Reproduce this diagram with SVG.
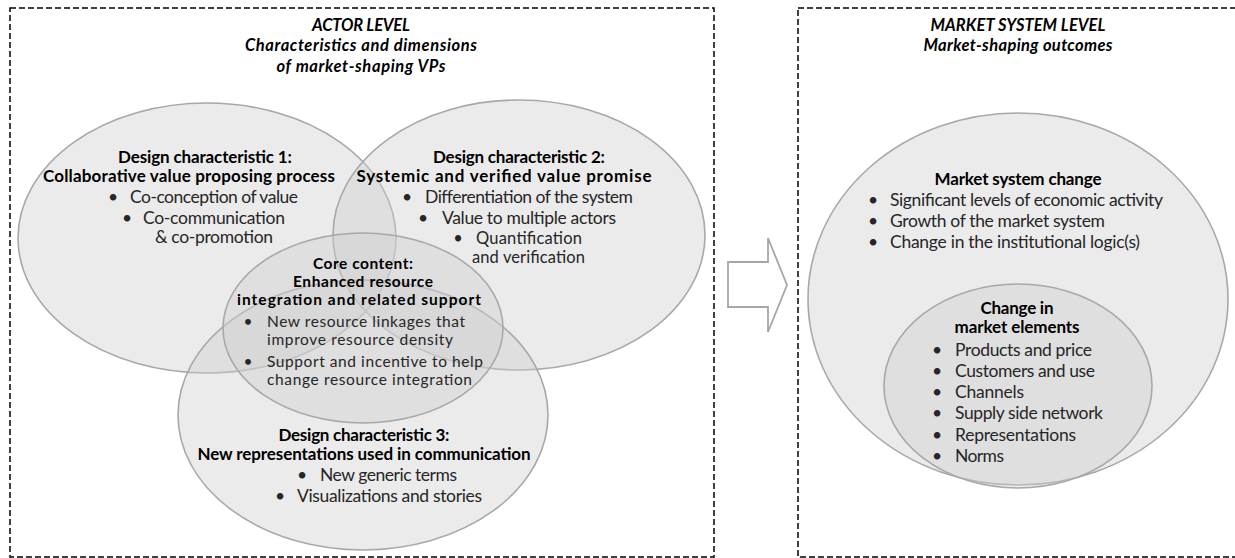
<svg xmlns="http://www.w3.org/2000/svg" width="1235" height="558" viewBox="0 0 1235 558">
<style>
.frame{fill:none;stroke:#000;stroke-width:1.5;stroke-dasharray:6 3}
.ell{fill:#cfcfcf;fill-opacity:0.42;stroke:#a8a8a8;stroke-width:1.6}
.t{font-family:Lato,"Liberation Sans",sans-serif;font-size:17.5px;fill:#262626}
.b{font-weight:bold;fill:#000;font-size:17px}
.s{font-size:15.5px}
.m{font-size:16.5px}
.h{font-family:Lato,"Liberation Sans",sans-serif;font-size:16.5px;font-weight:bold;font-style:italic;fill:#000;text-anchor:middle}
.c{text-anchor:middle}
.arrow{fill:#fff;stroke:#a6a6a6;stroke-width:1.8}
</style>
<rect x="0" y="0" width="1235" height="558" fill="#fff"/>
<g id="actor-level">
<rect class="frame" x="10" y="8" width="704" height="549"/>
<text class="h" x="361" y="31" textLength="98">ACTOR LEVEL</text>
<text class="h" x="361" y="51" textLength="232">Characteristics and dimensions</text>
<text class="h" x="361" y="72" textLength="169">of market-shaping VPs</text>
</g>
<g id="market-system-level">
<rect class="frame" x="798" y="8" width="445" height="549"/>
<text class="h" x="1018" y="31" textLength="175">MARKET SYSTEM LEVEL</text>
<text class="h" x="1018" y="51" textLength="189">Market-shaping outcomes</text>
</g>
<g id="design1">
<ellipse class="ell" cx="207" cy="238" rx="189" ry="135"/>
</g>
<g id="design2">
<ellipse class="ell" cx="519" cy="235" rx="186" ry="135"/>
</g>
<g id="design3">
<ellipse class="ell" cx="363" cy="415" rx="185" ry="135"/>
</g>
<g id="core">
<ellipse class="ell" cx="363" cy="328" rx="140" ry="95"/>
</g>
<g id="design1-text">
<text class="t b c" x="205" y="163" textLength="174">Design characteristic 1:</text>
<text class="t b c" x="189" y="182" textLength="292">Collaborative value proposing process</text>
<text class="t c" x="113" y="203">•</text>
<text class="t" x="130" y="203" textLength="168">Co-conception of value</text>
<text class="t c" x="127" y="224">•</text>
<text class="t" x="143" y="224" textLength="142">Co-communication</text>
<text class="t" x="155" y="243" textLength="118">&amp; co-promotion</text>
</g>
<g id="design2-text">
<text class="t b c" x="519" y="163" textLength="172">Design characteristic 2:</text>
<text class="t b c" x="504" y="182" textLength="295">Systemic and verified value promise</text>
<text class="t c" x="407" y="203">•</text>
<text class="t" x="425" y="203" textLength="208">Differentiation of the system</text>
<text class="t c" x="423" y="224">•</text>
<text class="t" x="442" y="224" textLength="174">Value to multiple actors</text>
<text class="t c m" x="458" y="244">•</text>
<text class="t m" x="476" y="244" textLength="106">Quantification</text>
<text class="t m" x="472" y="263" textLength="113">and verification</text>
</g>
<g id="core-text">
<text class="t b c s" x="363" y="269" textLength="100">Core content:</text>
<text class="t b c s" x="363" y="287" textLength="140">Enhanced resource</text>
<text class="t b c s" x="359" y="305" textLength="244">integration and related support</text>
<text class="t c s" x="248" y="327">•</text>
<text class="t s" x="267" y="327" textLength="198">New resource linkages that</text>
<text class="t s" x="267" y="345" textLength="186">improve resource density</text>
<text class="t c s" x="248" y="367">•</text>
<text class="t s" x="267" y="367" textLength="216">Support and incentive to help</text>
<text class="t s" x="267" y="385" textLength="205">change resource integration</text>
</g>
<g id="design3-text">
<text class="t b c" x="364" y="441" textLength="171">Design characteristic 3:</text>
<text class="t b c" x="364" y="460" textLength="333">New representations used in communication</text>
<text class="t c" x="302" y="481">•</text>
<text class="t" x="320" y="481" textLength="137">New generic terms</text>
<text class="t c" x="280" y="502">•</text>
<text class="t" x="297" y="502" textLength="185">Visualizations and stories</text>
</g>
<g id="market-system-change">
<ellipse class="ell" cx="1018" cy="299" rx="210" ry="186"/>
<text class="t b c" x="1018" y="185" textLength="167">Market system change</text>
<text class="t c" x="873" y="206">•</text>
<text class="t" x="890" y="206" textLength="273">Significant levels of economic activity</text>
<text class="t c" x="873" y="227">•</text>
<text class="t" x="890" y="227" textLength="215">Growth of the market system</text>
<text class="t c" x="873" y="248">•</text>
<text class="t" x="890" y="248" textLength="250">Change in the institutional logic(s)</text>
</g>
<g id="market-elements">
<ellipse class="ell" cx="1018" cy="386" rx="134" ry="102"/>
<text class="t b c" x="1017" y="314" textLength="73">Change in</text>
<text class="t b c" x="1017" y="333" textLength="125">market elements</text>
<text class="t c" x="937" y="356">•</text>
<text class="t" x="955" y="356" textLength="137">Products and price</text>
<text class="t c" x="937" y="377">•</text>
<text class="t" x="955" y="377" textLength="140">Customers and use</text>
<text class="t c" x="937" y="398">•</text>
<text class="t" x="955" y="398" textLength="69">Channels</text>
<text class="t c" x="937" y="419">•</text>
<text class="t" x="955" y="419" textLength="148">Supply side network</text>
<text class="t c" x="937" y="441">•</text>
<text class="t" x="955" y="441" textLength="121">Representations</text>
<text class="t c" x="937" y="462">•</text>
<text class="t" x="955" y="462" textLength="49">Norms</text>
</g>
<g id="connectors">
<polygon class="arrow" points="728,262 768,262 768,238 787,285 768,332 768,307 728,307"/>
</g>
</svg>
